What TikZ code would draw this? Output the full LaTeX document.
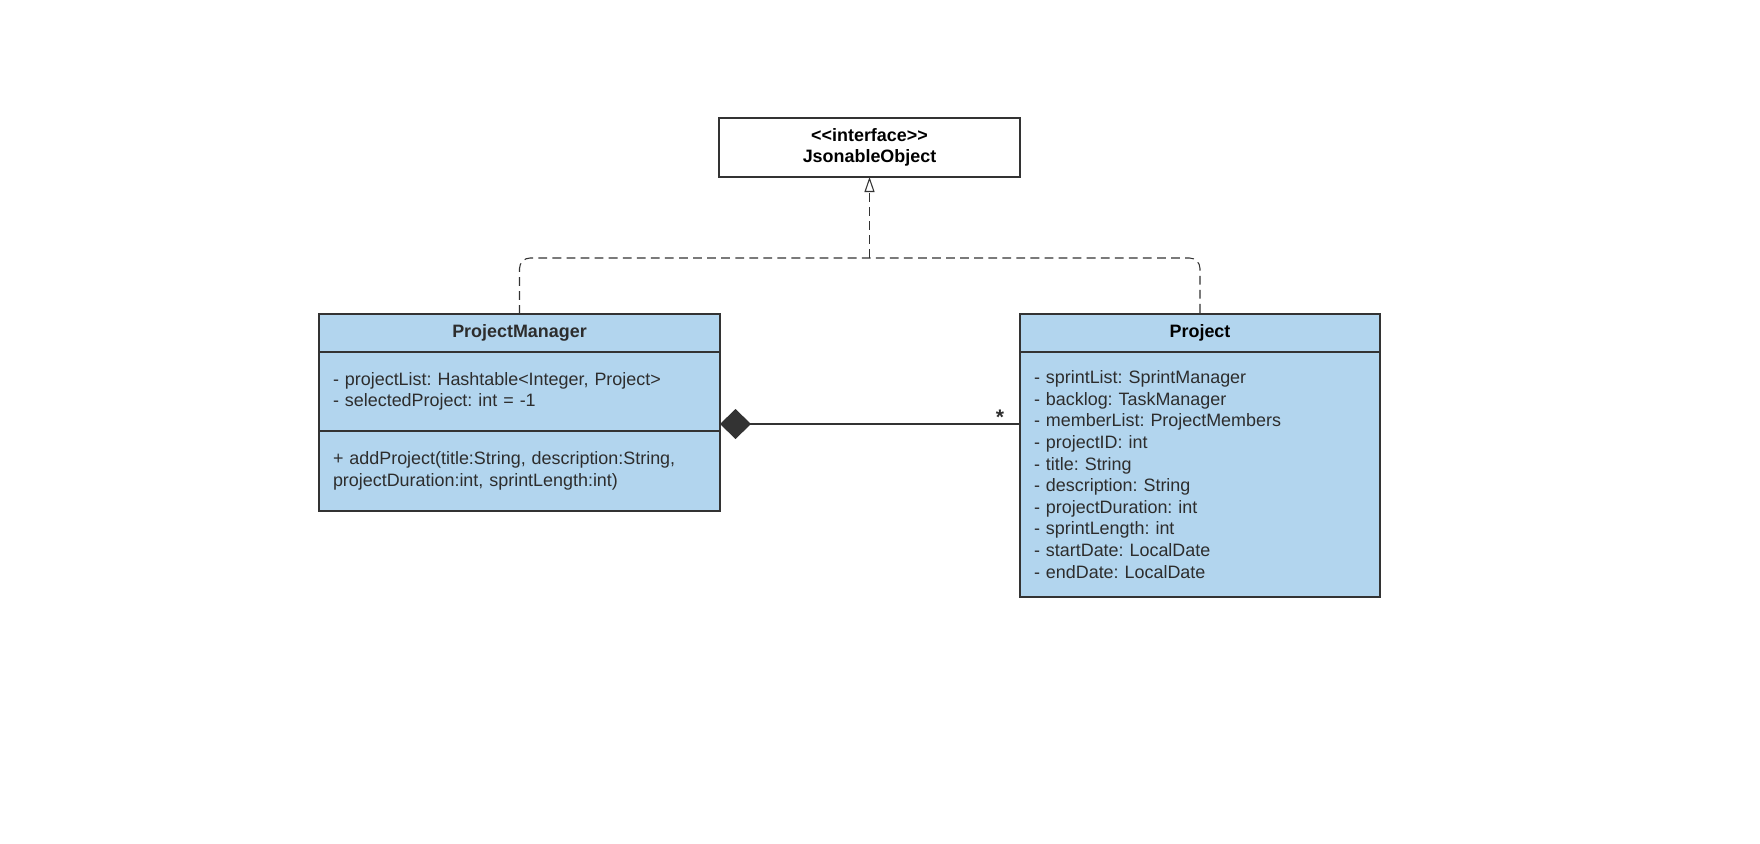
\documentclass[tikz,border=0pt]{standalone}
\usepackage{fontspec}
\setmainfont{Liberation Sans}
\usetikzlibrary{arrows.meta,positioning}
\definecolor{classblue}{RGB}{178,213,238}
\definecolor{edgegray}{RGB}{51,51,51}
\definecolor{textgray}{RGB}{45,45,45}
\frenchspacing

\tikzset{
  umlfont/.style={font=\fontsize{10.2}{12.3}\selectfont},
  classhead/.style={draw=edgegray, line width=1.1pt, fill=classblue, umlfont,
    outer sep=0pt, inner sep=0pt, anchor=north, text=textgray},
  classpart/.style={classhead, inner xsep=0.28cm, align=left},
  realize/.style={edgegray, line width=0.6pt, dash pattern=on 5pt off 3pt},
  compose/.style={edgegray, line width=0.6pt,
    -{Diamond[length=0.62cm,width=0.6cm,fill=edgegray]}},
}

\begin{document}
\begin{tikzpicture}

% Background
\useasboundingbox (0,0) rectangle (35.2,-16.86);
\fill[white] (0,0) rectangle (35.2,-16.86);

% Interface
\node[classhead, fill=white, text=black, align=center,
      minimum width=6.02cm, minimum height=1.18cm] (json) at (17.39,-2.36)
  {\textbf{<\kern0pt<interface>\kern0pt>}\\\textbf{JsonableObject}};

% ProjectManager
\node[classhead, minimum width=8.02cm, minimum height=0.76cm] (pm) at (10.39,-6.28)
  {\textbf{ProjectManager}};
\node[classpart, below=0pt of pm, text width=7.46cm, minimum height=1.58cm] (pmattr)
  {- projectList: Hashtable<Integer, Project>\\
   - selectedProject: int = -1};
\node[classpart, below=0pt of pmattr, text width=7.46cm, minimum height=1.6cm] (pmops)
  {+ addProject(title:String, description:String,\\
   projectDuration:int, sprintLength:int)};

% Project
\node[classhead, text=black, minimum width=7.2cm, minimum height=0.76cm] (proj) at (24.0,-6.28)
  {\textbf{Project}};
\node[classpart, below=0pt of proj, text width=6.64cm, minimum height=4.9cm] (projattr)
  {- sprintList: SprintManager\\
   - backlog: TaskManager\\
   - memberList: ProjectMembers\\
   - projectID: int\\
   - title: String\\
   - description: String\\
   - projectDuration: int\\
   - sprintLength: int\\
   - startDate: LocalDate\\
   - endDate: LocalDate};

% Realization
\coordinate (bus) at (json.south |- 0,-5.16);
\draw[realize, rounded corners=6pt] (pm.north) |- (bus) -| (proj.north);
\draw[realize, -{Triangle[open,length=0.3cm,width=0.2cm]}] (bus) -- (json.south);

% Composition
\coordinate (cpm) at ([yshift=0.14cm]pmattr.south east);
\draw[compose] (projattr.west |- cpm) -- (cpm)
  node[pos=0.067, anchor=base, text=textgray, font=\fontsize{12}{14}\selectfont\bfseries] (many) {*};

\end{tikzpicture}
\end{document}
